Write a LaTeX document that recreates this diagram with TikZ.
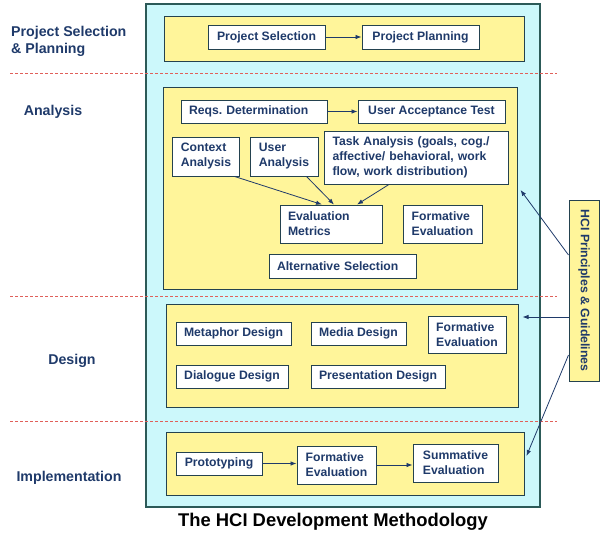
\documentclass[tikz,border=0pt]{standalone}
\usepackage{fontspec}
\setmainfont{Liberation Sans}
\usepackage{xcolor}
\usepackage{tikz}
\usetikzlibrary{arrows.meta, positioning, calc}
\definecolor{FrameCyan}{HTML}{CCF8FB}
\definecolor{FrameLine}{HTML}{2C5A58}
\definecolor{PanelYellow}{HTML}{FFF59A}
\definecolor{PanelLine}{HTML}{24424F}
\definecolor{NavyText}{HTML}{1F3A6A}
\definecolor{PhaseRed}{HTML}{E0605A}
\frenchspacing

\begin{document}
\begin{tikzpicture}[
    x=1pt, y=-1pt,
    frame/.style={draw=FrameLine, fill=FrameCyan, line width=1.1pt, inner sep=0pt},
    panel/.style={draw=PanelLine, fill=PanelYellow, line width=1pt, inner sep=0pt},
    box/.style={draw=PanelLine, fill=white, line width=0.9pt, text=NavyText,
        font=\fontsize{12.2}{15}\selectfont\bfseries, align=left,
        inner xsep=8pt, inner ysep=0pt, minimum width=#1},
    phase/.style={text=NavyText, font=\fontsize{14.2}{17}\selectfont\bfseries,
        align=left, inner sep=0pt},
    arr/.style={-{Latex[length=6pt, width=4.5pt]}, draw=NavyText, line width=0.8pt},
    sep/.style={draw=PhaseRed, line width=1pt, dash pattern=on 3pt off 2pt}
]
\useasboundingbox (0,0) rectangle (606,541);

% --- outer frame and phase separators ---
\node[frame, minimum width=394pt, minimum height=503pt] (frm) at (343,255.5) {};
\foreach \y in {73.5, 296, 421}
    \draw[sep] (10,\y) -- (557,\y);

% --- phase labels ---
\node[phase, anchor=west] (lpps) at (11,41.5) {Project Selection\\\& Planning};
\node[phase] (lana) at (53,112) {Analysis};
\node[phase] (ldes) at (72,361) {Design};
\node[phase] (limp) at (69,478) {Implementation};

% --- Project Selection & Planning ---
\node[panel, minimum width=360pt, minimum height=45pt] (pps) at (344,38.5) {};
\node[box=117pt, minimum height=24pt] (psel) at (266.5,37) {Project Selection};
\node[box=117pt, minimum height=24pt] (pplan) at (420.5,37) {Project Planning};
\draw[arr] (psel) -- (pplan);

% --- Analysis ---
\node[panel, minimum width=354pt, minimum height=202pt] (anal) at (340,188) {};
\node[box=146pt, minimum height=23pt, text width=130pt] (reqs) at (254,111.5) {Reqs. Determination};
\node[box=147pt, minimum height=23pt] (uat) at (431.5,111.5) {User Acceptance Test};
\node[box=66pt, minimum height=39pt] (ctx) at (206,156.5) {Context\\Analysis};
\node[box=68pt, minimum height=39pt] (usr) at (284,156.5) {User\\Analysis};
\node[box=184pt, minimum height=53pt, text width=167pt] (task) at (416,157.5)
    {Task Analysis (goals, cog./\\affective/ behavioral, work\\flow, work distribution)};
\node[box=102pt, minimum height=38pt, text width=86pt] (evm) at (331,224) {Evaluation\\Metrics};
\node[box=79pt, minimum height=38pt] (fea) at (442.5,224) {Formative\\Evaluation};
\node[box=147pt, minimum height=24pt, text width=131pt] (alt) at (342.5,266) {Alternative Selection};
\draw[arr] (reqs) -- (uat);
\draw[arr] ([xshift=-5pt]ctx.south east) -- ([xshift=-9pt]evm.north);
\draw[arr] ([xshift=-12pt]usr.south east) -- ([xshift=3pt]evm.north);
\draw[arr] ([xshift=-27pt]task.south) -- ([xshift=26pt]evm.north);

% --- Design ---
\node[panel, minimum width=352pt, minimum height=103pt] (des) at (342,355.5) {};
\node[box=115pt, minimum height=23pt] (meta) at (233.5,333.5) {Metaphor Design};
\node[box=95pt, minimum height=23pt] (media) at (358.5,333.5) {Media Design};
\node[box=78pt, minimum height=37pt] (fed) at (467,334.5) {Formative\\Evaluation};
\node[box=112pt, minimum height=23pt] (dial) at (232,376.5) {Dialogue Design};
\node[box=134pt, minimum height=23pt] (pres) at (378,376.5) {Presentation Design};

% --- Implementation ---
\node[panel, minimum width=358pt, minimum height=63pt] (impl) at (345,463.5) {};
\node[box=86pt, minimum height=23pt] (proto) at (219,463.5) {Prototyping};
\node[box=79pt, minimum height=38pt] (fei) at (336.5,465) {Formative\\Evaluation};
\node[box=85pt, minimum height=38pt] (summ) at (455.5,463) {Summative\\Evaluation};
\draw[arr] (proto.east) -- (proto.east -| fei.west);
\draw[arr] (fei.east) -- (fei.east -| summ.west);

% --- HCI principles feeding the phases ---
\node[panel, minimum width=30pt, minimum height=181pt, text=NavyText,
    font=\fontsize{12.3}{15}\selectfont\bfseries] (hci) at (584,290.5)
    {\rotatebox{-90}{HCI Principles \& Guidelines}};
\draw[arr] ([yshift=35.5pt]hci.west) -- ([xshift=3pt, yshift=-2pt]anal.east);
\draw[arr] ([yshift=-26.5pt]hci.west) -- ([xshift=4pt, yshift=38.5pt]des.east);
\draw[arr] ([yshift=-64.5pt]hci.west) -- ([xshift=2pt, yshift=7.5pt]impl.east);

% --- caption ---
\node[font=\fontsize{18.4}{22}\selectfont\bfseries] (title) at (333,522)
    {The HCI Development Methodology};
\end{tikzpicture}
\end{document}
